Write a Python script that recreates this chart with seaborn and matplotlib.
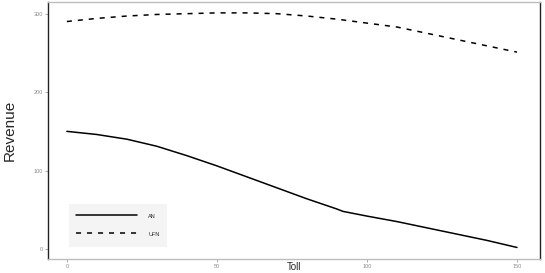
import pandas as pd
import matplotlib
matplotlib.use("Agg")
import matplotlib.pyplot as plt
import seaborn as sns

toll = [0, 10, 20, 30, 40, 50, 60, 70, 80, 90, 92, 100, 110, 120, 130, 140, 150]
revenue_an = [150, 146, 140, 131, 119, 106, 92, 78, 64, 51, 48, 42, 35, 27, 19, 11, 2]
revenue_ufn = [290, 294, 297, 299, 300, 301, 301, 300, 297, 293, 292, 288, 283, 275, 267, 259, 251]

df = pd.concat([
    pd.DataFrame({"Toll": toll, "Revenue": revenue_an, "Model": "AN"}),
    pd.DataFrame({"Toll": toll, "Revenue": revenue_ufn, "Model": "UFN"}),
])

sns.set_theme(style="white")
plt.rcParams["font.family"] = ["Liberation Sans", "DejaVu Sans"]

fig = plt.figure(figsize=(5.45, 2.73), dpi=100)
ax = fig.add_axes([0.088, 0.051, 0.903, 0.942])

sns.lineplot(data=df, x="Toll", y="Revenue", style="Model",
             dashes={"AN": "", "UFN": (3.3, 3.9)}, color="black",
             linewidth=1.1, ax=ax)

ax.set_xlim(-6.3, 157.7)
ax.set_ylim(-12.8, 315)
ax.set_xticks([0, 50, 100, 150])
ax.set_yticks([0, 100, 200, 300])
ax.tick_params(axis="both", labelsize=4, labelcolor="#8c8c8c", color="#8c8c8c",
               length=2, width=0.5, pad=1.5, bottom=True, left=True)

for side in ["left", "right"]:
    ax.spines[side].set_color("#222222")
    ax.spines[side].set_linewidth(1.0)
for side in ["top", "bottom"]:
    ax.spines[side].set_color("#bdbdbd")
    ax.spines[side].set_linewidth(1.0)

ax.set_xlabel("Toll", fontsize=7)
ax.xaxis.set_label_coords(0.5, -0.012)
ax.set_ylabel("Revenue", fontsize=11, labelpad=12)

leg = ax.legend(title=None, loc="lower left", bbox_to_anchor=(0.037, 0.036),
                fontsize=4, frameon=True, facecolor="#f2f2f2", edgecolor="none",
                fancybox=False, handlelength=11, handleheight=2.6,
                labelspacing=1.3, borderpad=1.3, handletextpad=2.0)
for line in leg.get_lines():
    line.set_linewidth(1.1)

fig.savefig("out.png", dpi=100)
